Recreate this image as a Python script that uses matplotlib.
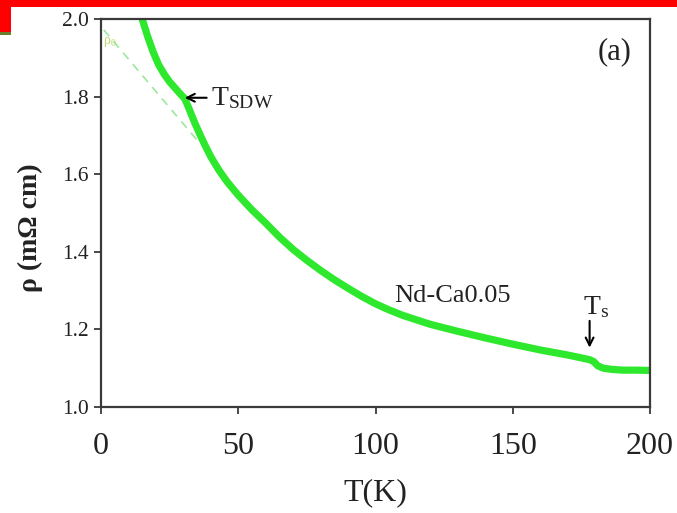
import matplotlib
matplotlib.use("Agg")
import matplotlib.pyplot as plt
from matplotlib.patches import Rectangle

plt.rcParams['font.family'] = ['Liberation Serif', 'DejaVu Serif']
plt.rcParams['mathtext.fontset'] = 'custom'
plt.rcParams['mathtext.rm'] = 'Liberation Serif'
plt.rcParams['mathtext.it'] = 'Liberation Serif:italic'
plt.rcParams['mathtext.bf'] = 'Liberation Serif:bold'

CURVE_COLOR = '#2ee82e'
FIT_COLOR = '#9be89b'
AXIS_COLOR = '#3a3a3a'
TEXT_COLOR = '#222222'

# resistivity vs temperature, Nd-Ca0.05
temp_k = [14.0, 15, 17, 19, 21, 23, 25, 27, 29, 30.5, 32, 34, 36, 38, 40,
          43, 46, 50, 55, 60, 65, 70, 75, 80, 85, 90, 95, 100, 105, 110,
          120, 130, 140, 150, 160, 170, 178, 179.5, 181, 183, 186, 190,
          195, 201]
rho = [2.02, 2.0, 1.955, 1.915, 1.882, 1.858, 1.838, 1.822, 1.806, 1.795,
       1.77, 1.735, 1.703, 1.673, 1.645, 1.61, 1.58, 1.546, 1.508, 1.474,
       1.438, 1.406, 1.378, 1.352, 1.328, 1.306, 1.285, 1.266, 1.25,
       1.236, 1.213, 1.195, 1.178, 1.162, 1.147, 1.134, 1.122, 1.117,
       1.106, 1.1, 1.097, 1.095, 1.095, 1.094]

# low-temperature linear extrapolation rho0 + a*T
fit_t = [1.0, 35.0]
fit_rho = [1.972, 1.688]

x_ticks = [0, 50, 100, 150, 200]
y_ticks = [1.0, 1.2, 1.4, 1.6, 1.8, 2.0]

fig = plt.figure(figsize=(6.77, 5.13), dpi=100)
fig.patch.set_facecolor('white')

# slide decoration: red header strip and corner block
fig.add_artist(Rectangle((0, 1 - 7 / 513), 1, 7 / 513, transform=fig.transFigure,
                         color='#ff0000', lw=0))
fig.add_artist(Rectangle((0, 1 - 32 / 513), 11 / 677, 32 / 513,
                         transform=fig.transFigure, color='#ff0000', lw=0))
fig.add_artist(Rectangle((0, 1 - 35 / 513), 11 / 677, 3 / 513,
                         transform=fig.transFigure, color='#6b7f2a', lw=0))

ax = fig.add_axes([101 / 677, 1 - 407 / 513, 549 / 677, 388 / 513])
ax.plot(fit_t, fit_rho, color=FIT_COLOR, lw=1.2, ls=(0, (5, 4)))
ax.plot(temp_k, rho, color=CURVE_COLOR, lw=5.2, solid_capstyle='round',
        solid_joinstyle='round')

ax.set_xlim(0, 200)
ax.set_ylim(1.0, 2.0)
ax.set_xticks(x_ticks)
ax.set_yticks(y_ticks)
ax.set_xticklabels([str(t) for t in x_ticks], fontsize=23)
ax.set_yticklabels([f"{v:.1f}" for v in y_ticks], fontsize=15.5)
ax.tick_params(axis='x', direction='out', length=5, width=1.3, color=AXIS_COLOR,
               pad=13, labelcolor=TEXT_COLOR)
ax.tick_params(axis='y', direction='out', length=5, width=1.3, color=AXIS_COLOR,
               pad=4, labelcolor=TEXT_COLOR)
for sp in ax.spines.values():
    sp.set_color(AXIS_COLOR)
    sp.set_linewidth(1.6)

fig.text(375.5 / 677, 1 - 493 / 513, "T(K)", fontsize=23, ha='center',
         va='center', color=TEXT_COLOR)
fig.text(30 / 677, 1 - 228 / 513, "ρ (mΩ cm)", fontsize=20, fontweight='bold',
         rotation=90, ha='center', va='center', color=TEXT_COLOR)

ax.text(0.935, 0.915, "(a)", transform=ax.transAxes, fontsize=22,
        ha='center', va='center', color=TEXT_COLOR)
ax.text(0.8, 1.94, r"ρ$_0$", fontsize=10, color='#b8d86a',
        ha='left', va='center')
ax.text(128, 1.286, "Nd-Ca0.05", fontsize=19, ha='center', va='center',
        color=TEXT_COLOR)

ax.annotate(r"T$_{\mathrm{SDW}}$", xy=(30.5, 1.797), xytext=(40, 1.797),
            fontsize=20, va='center', ha='left', color=TEXT_COLOR,
            arrowprops=dict(arrowstyle='->', color='black', lw=1.5,
                            shrinkA=1, shrinkB=0, mutation_scale=14))
ax.text(180.5, 1.258, r"T$_{\mathrm{s}}$", fontsize=20, ha='center',
        va='center', color=TEXT_COLOR)
ax.annotate("", xy=(178, 1.153), xytext=(178, 1.222),
            arrowprops=dict(arrowstyle='->', color='black', lw=1.5,
                            shrinkA=0, shrinkB=0, mutation_scale=14))

fig.savefig("out.png", dpi=100)
